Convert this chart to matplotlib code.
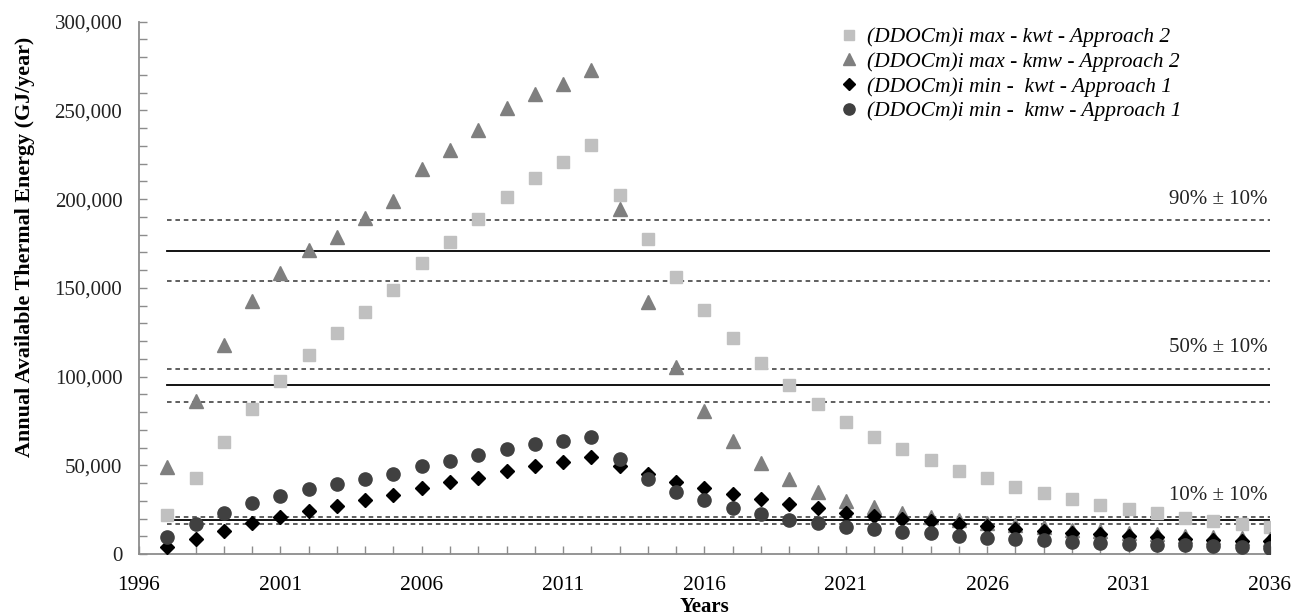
import matplotlib
matplotlib.use("Agg")
import matplotlib.pyplot as plt
from matplotlib.ticker import MultipleLocator, FixedLocator, FuncFormatter

years = list(range(1997, 2037))

kwt_max_appr2 = [22000, 42700, 63000, 81700, 97700, 112300, 124700, 136600, 148800, 163800,
                 176000, 188600, 201400, 211700, 220800, 230500, 202300, 177300, 156300, 137500,
                 121500, 107500, 95500, 84500, 74600, 66100, 59200, 53000, 47000, 42600,
                 37900, 34200, 31000, 27600, 25200, 22900, 20500, 18800, 16700, 15400]

kmw_max_appr2 = [49200, 86400, 117800, 142800, 158500, 171300, 178800, 189200, 199000, 216800,
                 227700, 239000, 251200, 259100, 264700, 272800, 194300, 141800, 105600, 80800,
                 63700, 51100, 42300, 35100, 30000, 26300, 23300, 21000, 19200, 17700,
                 16300, 15000, 13800, 12800, 11800, 11000, 10200, 9500, 8900, 8300]

kwt_min_appr1 = [4100, 8500, 13000, 17300, 20700, 24400, 27100, 30400, 33300, 37200,
                 40400, 43000, 47000, 49600, 52000, 54500, 49800, 45100, 40800, 37000,
                 33600, 31000, 28000, 26100, 23300, 21400, 19600, 18400, 17100, 15800,
                 14300, 13100, 12000, 11100, 10300, 9600, 8600, 8100, 7500, 7300]

kmw_min_appr1 = [9400, 16700, 23300, 28900, 32700, 36600, 39300, 42300, 44900, 49600,
                 52600, 55800, 59000, 61800, 63700, 66100, 53400, 42300, 35100, 30400,
                 25700, 22300, 19200, 17300, 15400, 13900, 12200, 11600, 10300, 9200,
                 8300, 7700, 6900, 6400, 5600, 5100, 4900, 4300, 3900, 3600]

series_labels = ["(DDOCm)i max - kwt - Approach 2",
                 "(DDOCm)i max - kmw - Approach 2",
                 "(DDOCm)i min -  kwt - Approach 1",
                 "(DDOCm)i min -  kmw - Approach 1"]

x_tick_labels = [1996, 2001, 2006, 2011, 2016, 2021, 2026, 2031, 2036]

ref_levels = [171000, 95000, 19000]
ref_labels = ["90% \u00b1 10%", "50% \u00b1 10%", "10% \u00b1 10%"]
band = 0.10

plt.rcParams['font.family'] = ['Liberation Serif', 'DejaVu Serif']

fig = plt.figure(figsize=(13, 6.15), dpi=100)
ax = fig.add_axes([0.1069, 0.0992, 0.8700, 0.8655])

# reference lines
for lvl, lab in zip(ref_levels, ref_labels):
    ax.plot([years[0], years[-1]], [lvl, lvl], color='black', lw=1.3, zorder=1)
    for f in (1 + band, 1 - band):
        ax.plot([years[0], years[-1]], [lvl * f, lvl * f], color='#333333', lw=1.1,
                ls=(0, (3, 2.5)), zorder=1)
    ax.text(years[-1] - 0.1, lvl * (1 + band) + 6500, lab, ha='right', va='bottom',
            fontsize=15, color='#222222')

ax.plot(years, kwt_max_appr2, ls='none', marker='s', ms=8.6, color='#c0c0c0',
        mec='#c0c0c0', label=series_labels[0], zorder=3)
ax.plot(years, kmw_max_appr2, ls='none', marker='^', ms=9.5, color='#7f7f7f',
        mec='#7f7f7f', label=series_labels[1], zorder=3)
ax.plot(years, kwt_min_appr1, ls='none', marker='D', ms=7.4, color='black',
        mec='black', label=series_labels[2], zorder=4)
ax.plot(years, kmw_min_appr1, ls='none', marker='o', ms=9.5, color='#404040',
        mec='#404040', label=series_labels[3], zorder=5)

ax.set_xlim(1996, 2036)
ax.set_ylim(0, 300000)
ax.xaxis.set_major_locator(FixedLocator(x_tick_labels))
ax.xaxis.set_minor_locator(MultipleLocator(1))
ax.yaxis.set_major_locator(MultipleLocator(50000))
ax.yaxis.set_minor_locator(MultipleLocator(10000))
ax.yaxis.set_major_formatter(FuncFormatter(lambda v, p: f"{int(v):,}"))

for s in ('top', 'right'):
    ax.spines[s].set_visible(False)
for s in ('left', 'bottom'):
    ax.spines[s].set_color('#8c8c8c')
    ax.spines[s].set_linewidth(1.3)

ax.tick_params(which='both', direction='in', color='#8c8c8c', width=1.0, length=6)
ax.tick_params(axis='x', which='major', labelsize=15.5, pad=16, colors='#8c8c8c', labelcolor='black')
ax.tick_params(axis='y', which='major', labelsize=15, pad=12, colors='#8c8c8c', labelcolor='#222222')

ax.set_xlabel("Years", fontsize=15, fontweight='bold', labelpad=0)
ax.set_ylabel("Annual Available Thermal Energy (GJ/year)", fontsize=15.8,
              fontweight='bold')
ax.xaxis.set_label_coords(0.5, -0.08)
ax.yaxis.set_label_coords(-0.092, 0.577)

leg = ax.legend(loc='upper left', bbox_to_anchor=(838 / 1300, 1 - 27 / 615),
                bbox_transform=fig.transFigure, frameon=False,
                prop={'family': 'Liberation Serif', 'style': 'italic', 'size': 15.5},
                handletextpad=0.35, labelspacing=0.22, handlelength=1.0,
                markerscale=0.85, borderaxespad=0, borderpad=0)

fig.savefig("out.png", dpi=100)
